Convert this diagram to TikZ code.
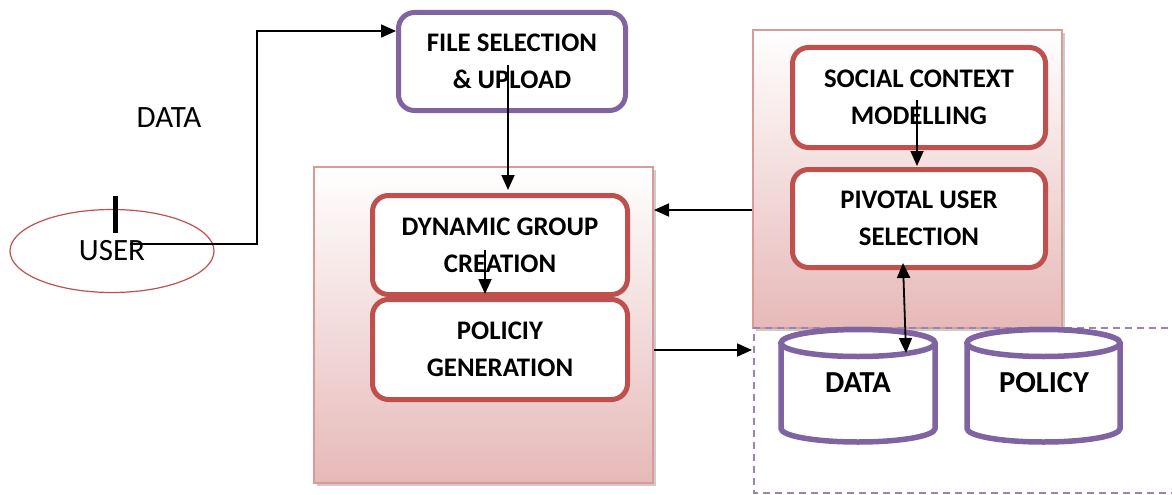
\documentclass[tikz,border=0pt]{standalone}
\usepackage{fontspec}
\setmainfont{Carlito}
\usetikzlibrary{arrows.meta,shadows,shapes.geometric}
\definecolor{cpurple}{HTML}{8064A2}
\definecolor{cred}{HTML}{C0504D}
\definecolor{cpanel}{HTML}{DA9A98}
\definecolor{cpink}{HTML}{E6B9B8}
\begin{document}
\begin{tikzpicture}[x=1pt,y=1pt,
  procbox/.style={draw=cred, line width=5pt, fill=white, rounded corners=16pt, align=center,
    font=\fontsize{26.8}{37}\selectfont\bfseries, inner sep=0pt},
  filebox/.style={procbox, draw=cpurple},
  panel/.style={draw=cpanel, line width=2pt, top color=white, bottom color=cpink, inner sep=0pt,
    drop shadow={shadow xshift=3pt, shadow yshift=-3pt, fill=black!40, opacity=0.5}},
  arr/.style={line width=1.8pt, -{Triangle[length=15pt,width=13pt]}},
  darr/.style={line width=1.8pt, {Triangle[length=15pt,width=13pt]}-{Triangle[length=15pt,width=13pt]}},
  cyl/.style={draw=cpurple, line width=5.5pt, fill=white},
  cyltext/.style={font=\fontsize{30.5}{34}\selectfont\bfseries},
  plaintext/.style={font=\fontsize{31}{34}\selectfont},
]
\useasboundingbox (0,0) rectangle (1172,-495);

% panels
\node[panel, minimum width=339pt, minimum height=316pt] (lp) at (483.5,-325) {};
\node[panel, minimum width=309pt, minimum height=298pt] (rp) at (907.5,-179) {};

% dashed storage region
\draw[cpurple!80, dashed, dash pattern=on 7pt off 5pt, line width=1.5pt]
  (1180,-328) -- (754,-328) -- (754,-493) -- (1180,-493);

% process boxes
\node[filebox, minimum width=227pt, minimum height=98pt] (fs) at (512,-61.5) {FILE SELECTION\\\& UPLOAD};
\node[procbox, minimum width=255pt, minimum height=99pt] (dg) at (500,-245) {DYNAMIC GROUP\\CREATION};
\node[procbox, minimum width=255pt, minimum height=100pt] (pg) at (500,-349.5) {POLICIY\\GENERATION};
\node[procbox, minimum width=253pt, minimum height=100pt] (sc) at (919,-97.5) {SOCIAL CONTEXT\\MODELLING};
\node[procbox, minimum width=253pt, minimum height=98pt] (pv) at (919,-218.5) {PIVOTAL USER\\SELECTION};

% user
\node[draw=cred, line width=1.2pt, ellipse, minimum width=204pt, minimum height=83pt, inner sep=0pt,
  plaintext] (user) at (112,-251) {USER};
\draw[line width=5pt] (115,-196) -- (115,-233);
\node[plaintext] (datalbl) at (169,-118) {DATA};

% cylinders
\filldraw[cyl] (781,-343) -- (781,-428.5) arc[start angle=180,end angle=360,x radius=77pt,y radius=13.5pt]
  -- (935,-343) arc[start angle=0,end angle=180,x radius=77pt,y radius=13.5pt] -- cycle;
\draw[cyl] (858,-343) ellipse[x radius=77pt,y radius=13.5pt];
\filldraw[cyl] (967,-343) -- (967,-428.5) arc[start angle=180,end angle=360,x radius=76.5pt,y radius=13.5pt]
  -- (1120,-343) arc[start angle=0,end angle=180,x radius=76.5pt,y radius=13.5pt] -- cycle;
\draw[cyl] (1043.5,-343) ellipse[x radius=76.5pt,y radius=13.5pt];
\node[cyltext] (dbdata) at (858,-383) {DATA};
\node[cyltext] (dbpolicy) at (1044,-383) {POLICY};
\coordinate (datatop) at (906,-353);

% connectors
\draw[arr] ([xshift=18pt,yshift=7pt]user.center) -| (257,-31) -- (fs.west |- 0,-31);
\draw[arr] ([xshift=-4pt,yshift=-4pt]fs.center) -- ([xshift=8pt,yshift=3pt]dg.north);
\draw[arr] ([xshift=-15pt,yshift=-5pt]dg.center) -- ([xshift=-15pt,yshift=3pt]dg.south);
\draw[arr] ([xshift=-2pt,yshift=-2.5pt]sc.center) -- ([xshift=-2pt,yshift=1pt]pv.north);
\draw[arr] (rp.west |- 0,-210) -- (lp.east |- 0,-210);
\draw[arr] (lp.east |- 0,-350) -- (rp.west |- 0,-350);
\draw[darr] ([xshift=-16pt,yshift=7pt]pv.south) -- (datatop);
\end{tikzpicture}
\end{document}
